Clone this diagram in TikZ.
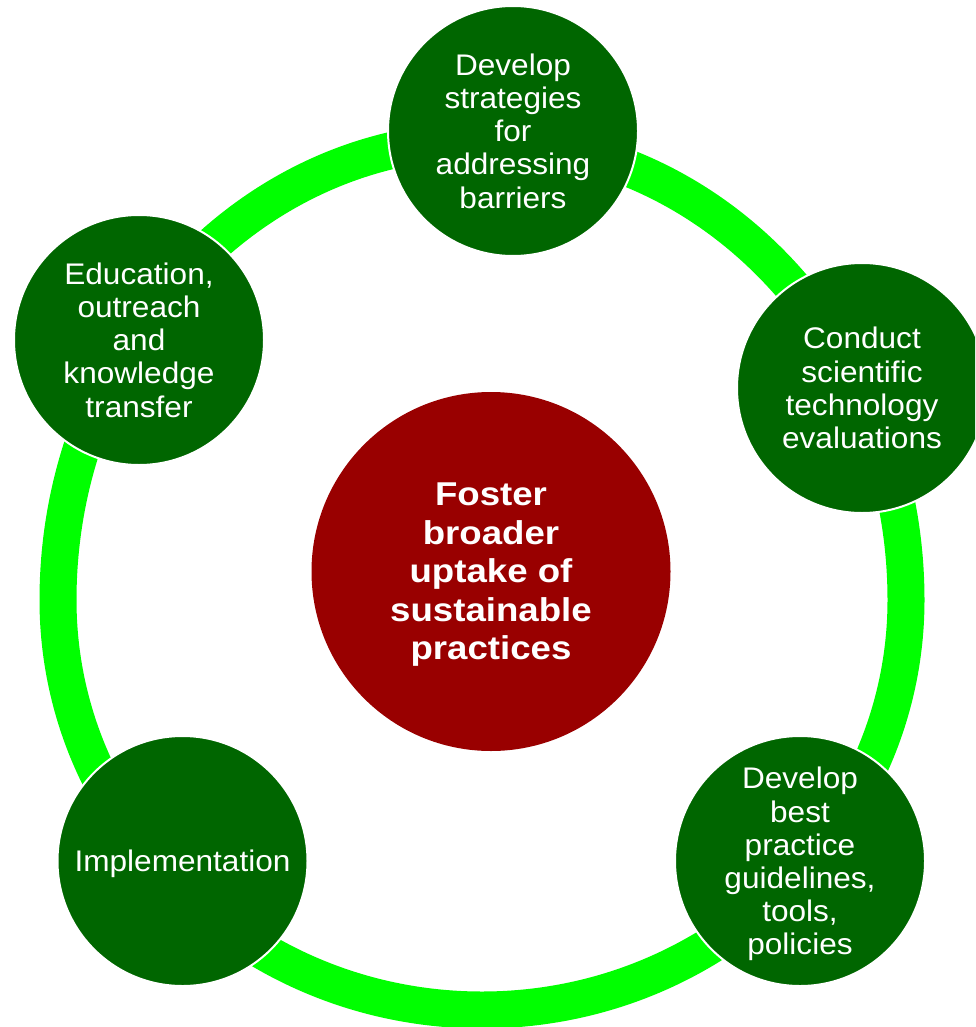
\documentclass[tikz,border=0pt]{standalone}
\usepackage{fontspec}
\setmainfont[FakeStretch=1.06]{Liberation Sans}
\newfontface\hubface[FakeStretch=1.11]{Liberation Sans Bold}
\definecolor{dkgreen}{HTML}{006600}
\definecolor{ringgreen}{HTML}{00FF00}
\definecolor{hubred}{HTML}{990000}
\begin{document}
\begin{tikzpicture}[x=1pt,y=-1pt,
  ringline/.style={draw=ringgreen, line width=37pt},
  sat/.style={circle, fill=dkgreen, draw=white, line width=2pt, minimum size=250pt,
    inner sep=0pt, text=white, align=center, text depth=0pt,
    font=\fontsize{29.8}{33.2}\selectfont},
  hub/.style={circle, fill=hubred, minimum size=359pt, inner sep=0pt, text=white,
    align=center, text depth=0pt, font=\hubface\fontsize{33}{38.5}\selectfont}]
\useasboundingbox (0,0) rectangle (975,1027);
\clip (0,0) rectangle (975,1027);
% ring: upper and lower half-ellipses joined at the sides
\coordinate (ringleft) at (58,600);
\draw[ringline] (ringleft)
  arc[start angle=180, end angle=360, x radius=424, y radius=460]
  arc[start angle=0, end angle=180, x radius=424, y radius=410] -- cycle;
% satellites
\node[sat] (top) at (513,131) {Develop\\strategies\\for\\addressing\\barriers};
\node[sat] (right) at (862,388) {Conduct\\scientific\\technology\\evaluations};
\node[sat] (botright) at (800,861) {Develop\\best\\practice\\guidelines,\\tools,\\policies};
\node[sat] (botleft) at (182.5,861) {Implementation};
\node[sat] (left) at (139,340) {Education,\\outreach\\and\\knowledge\\transfer};
% hub
\node[hub] (hub) at (491,571.5) {Foster\\broader\\uptake of\\sustainable\\practices};
\end{tikzpicture}
\end{document}
